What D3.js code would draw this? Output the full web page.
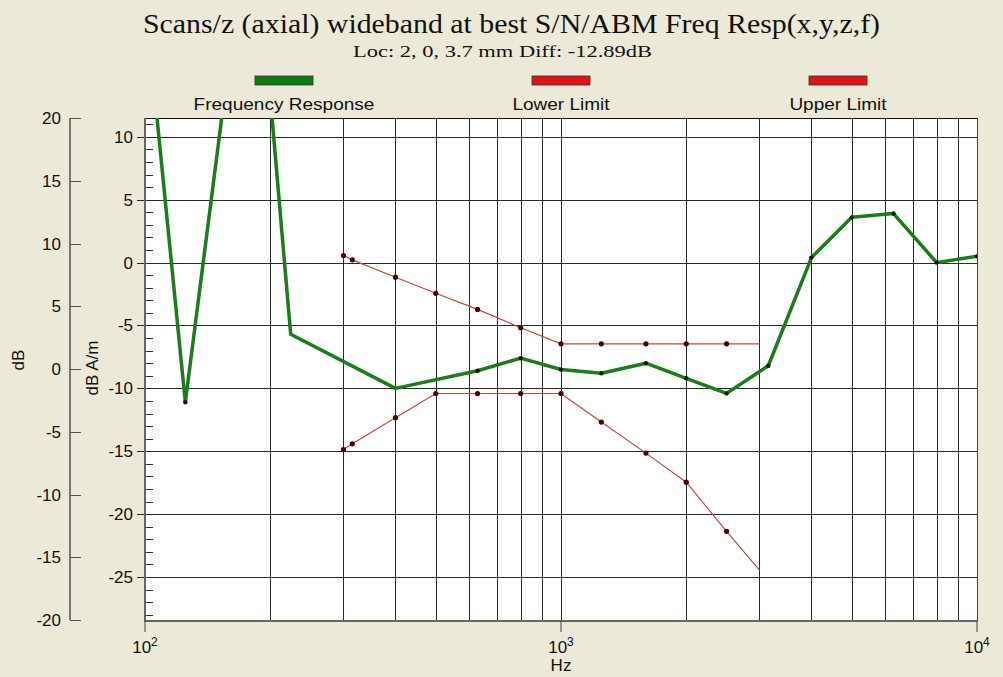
<!DOCTYPE html>
<meta charset="utf-8">
<style>
body { margin: 0; background: #ECE9D8; }
text { font-family: "Liberation Sans", Arial, sans-serif; fill: #111; }
.serif { font-family: "Liberation Serif", "Times New Roman", serif; }
</style>
<body>
<script src="https://d3js.org/d3.v7.min.js"></script>
<script>

// frequency response (Hz, dB A/m)
var respFreq = [100, 125, 160, 200, 224, 400, 630, 800, 1000, 1250, 1600, 2000, 2500, 3150, 4000, 5000, 6300, 8000, 10000];
var respVal  = [21.1, -11.1, 16.6, 13.2, -5.7, -10.0, -8.6, -7.6, -8.5, -8.8, -8.0, -9.2, -10.4, -8.2, 0.4, 3.6, 3.9, 0.0, 0.5];
// which response points carry a marker dot
var respDot  = [0, 1, 0, 0, 0, 0, 1, 1, 1, 1, 1, 1, 1, 1, 1, 1, 1, 1, 1];

// limit lines
var limitFreq = [300, 315, 400, 500, 630, 800, 1000, 1250, 1600, 2000, 2500, 3000];
var upperVal  = [0.56, 0.22, -1.16, -2.44, -3.72, -5.18, -6.46, -6.46, -6.46, -6.46, -6.46, -6.46];
var lowerVal  = [-14.86, -14.41, -12.33, -10.41, -10.41, -10.41, -10.41, -12.68, -15.15, -17.46, -21.37, -24.45];

// tick labels
var leftTicks  = [20, 15, 10, 5, 0, -5, -10, -15, -20];
var rightTicks = [10, 5, 0, -5, -10, -15, -20, -25];
var decades = [100, 1000, 10000];
var decadeExp = ["2", "3", "4"];

var legendNames = ["Frequency Response", "Lower Limit", "Upper Limit"];

var width = 1003, height = 677;
var plot = {left: 145, right: 977, top: 118, bottom: 621};

var svg = d3.select("body").append("svg")
    .attr("width", width)
    .attr("height", height);

svg.append("rect").attr("width", width).attr("height", height).attr("fill", "#ECE9D8");

// scales
var x = d3.scaleLog().domain([100, 10000]).range([plot.left, plot.right]);
var y = d3.scaleLinear().domain([-28.5, 11.5]).range([plot.bottom, plot.top]);
var yL = d3.scaleLinear().domain([-20, 20]).range([620, 118]);

svg.append("defs").append("clipPath").attr("id", "clip")
  .append("rect")
    .attr("x", plot.left).attr("y", plot.top)
    .attr("width", plot.right - plot.left).attr("height", plot.bottom - plot.top);

// plot background
svg.append("rect")
    .attr("x", plot.left).attr("y", plot.top)
    .attr("width", plot.right - plot.left).attr("height", plot.bottom - plot.top)
    .attr("fill", "#fff");

// vertical grid (all log ticks 200..9000)
var gridF = x.ticks().filter(function(f) { return f > 100 && f < 10000; });
svg.append("g").selectAll("line")
    .data(gridF)
  .enter().append("line")
    .attr("x1", function(d) { return Math.round(x(d)) + 0.5; })
    .attr("x2", function(d) { return Math.round(x(d)) + 0.5; })
    .attr("y1", plot.top).attr("y2", plot.bottom)
    .attr("stroke", "#2a2a2a").attr("stroke-width", 1);

// horizontal grid + major ticks
svg.append("g").selectAll("line")
    .data(rightTicks)
  .enter().append("line")
    .attr("x1", plot.left - 8).attr("x2", plot.right)
    .attr("y1", function(d) { return Math.round(y(d)) + 0.5; })
    .attr("y2", function(d) { return Math.round(y(d)) + 0.5; })
    .attr("stroke", "#2a2a2a").attr("stroke-width", 1);

// minor ticks every dB on the inside of the left edge
var minor = d3.range(-28, 12).filter(function(v) { return v % 5 != 0; });
svg.append("g").selectAll("line")
    .data(minor)
  .enter().append("line")
    .attr("x1", plot.left).attr("x2", plot.left + 8)
    .attr("y1", function(d) { return Math.round(y(d)) + 0.5; })
    .attr("y2", function(d) { return Math.round(y(d)) + 0.5; })
    .attr("stroke", "#333").attr("stroke-width", 1);

// frame
svg.append("line").attr("x1", plot.left).attr("x2", plot.right + 1)
    .attr("y1", plot.top + 0.5).attr("y2", plot.top + 0.5).attr("stroke", "#111");
svg.append("line").attr("x1", plot.right + 0.5).attr("x2", plot.right + 0.5)
    .attr("y1", plot.top).attr("y2", plot.bottom).attr("stroke", "#444");
svg.append("line").attr("x1", plot.left).attr("x2", plot.left)
    .attr("y1", plot.top).attr("y2", plot.bottom + 1).attr("stroke", "#666").attr("stroke-width", 2);
svg.append("line").attr("x1", plot.left - 1).attr("x2", plot.right + 1)
    .attr("y1", plot.bottom).attr("y2", plot.bottom).attr("stroke", "#666").attr("stroke-width", 2);

// decade ticks below the axis
svg.append("g").selectAll("line")
    .data(decades)
  .enter().append("line")
    .attr("x1", function(d) { return x(d); }).attr("x2", function(d) { return x(d); })
    .attr("y1", plot.bottom).attr("y2", plot.bottom + 11)
    .attr("stroke", "#444");

// decade labels 10^n
var xl = svg.append("g").selectAll("text")
    .data(decades)
  .enter().append("text")
    .attr("x", function(d) { return x(d); })
    .attr("y", 653)
    .attr("text-anchor", "middle")
    .style("font-size", "17px");
xl.append("tspan").text("10");
xl.append("tspan")
    .attr("dy", -7).style("font-size", "12px")
    .text(function(d, i) { return decadeExp[i]; });

svg.append("text")
    .attr("x", x(1000)).attr("y", 671)
    .attr("text-anchor", "middle")
    .style("font-size", "17px")
    .text("Hz");

// right (dB A/m) labels
svg.append("g").selectAll("text")
    .data(rightTicks)
  .enter().append("text")
    .attr("x", 133)
    .attr("y", function(d) { return y(d) + 6; })
    .attr("text-anchor", "end")
    .style("font-size", "17px")
    .text(function(d) { return d; });

// left (dB) axis
svg.append("line").attr("x1", 70).attr("x2", 70)
    .attr("y1", yL(20)).attr("y2", yL(-20))
    .attr("stroke", "#777").attr("stroke-width", 2);
svg.append("g").selectAll("line")
    .data(leftTicks)
  .enter().append("line")
    .attr("x1", 70).attr("x2", 81)
    .attr("y1", function(d) { return Math.round(yL(d)) + 0.5; })
    .attr("y2", function(d) { return Math.round(yL(d)) + 0.5; })
    .attr("stroke", "#555");
svg.append("g").selectAll("text")
    .data(leftTicks)
  .enter().append("text")
    .attr("x", 61)
    .attr("y", function(d) { return yL(d) + 6; })
    .attr("text-anchor", "end")
    .style("font-size", "17px")
    .text(function(d) { return d; });

// axis titles
svg.append("text")
    .attr("transform", "translate(24,360) rotate(-90)")
    .attr("text-anchor", "middle")
    .style("font-size", "17px")
    .text("dB");
svg.append("text")
    .attr("transform", "translate(98,368) rotate(-90)")
    .attr("text-anchor", "middle")
    .style("font-size", "17px")
    .text("dB A/m");

// data lines
var line = d3.line()
    .x(function(d) { return x(d[0]); })
    .y(function(d) { return y(d[1]); });

var resp = d3.zip(respFreq, respVal);
var upper = d3.zip(limitFreq, upperVal);
var lower = d3.zip(limitFreq, lowerVal);

var g = svg.append("g").attr("clip-path", "url(#clip)");

[upper, lower].forEach(function(s) {
  g.append("path")
      .datum(s)
      .attr("d", line)
      .attr("fill", "none")
      .attr("stroke", "#b84a4a")
      .attr("stroke-width", 1.2);
  g.selectAll(null)
      .data(s.slice(0, -1))
    .enter().append("circle")
      .attr("cx", function(d) { return x(d[0]); })
      .attr("cy", function(d) { return y(d[1]); })
      .attr("r", 2.6)
      .attr("fill", "#4a0000");
});

g.append("path")
    .datum(resp)
    .attr("d", line)
    .attr("fill", "none")
    .attr("stroke", "#1a7c1a")
    .attr("stroke-width", 3.5)
    .attr("stroke-linejoin", "round");
g.selectAll(null)
    .data(resp.filter(function(d, i) { return respDot[i]; }))
  .enter().append("circle")
    .attr("cx", function(d) { return x(d[0]); })
    .attr("cy", function(d) { return y(d[1]); })
    .attr("r", 2.2)
    .attr("fill", "#0a1a0a");

// title
svg.append("text")
    .attr("class", "serif")
    .attr("x", 143).attr("y", 33)
    .attr("textLength", 737)
    .attr("lengthAdjust", "spacingAndGlyphs")
    .style("font-size", "27px")
    .text("Scans/z (axial) wideband at best S/N/ABM Freq Resp(x,y,z,f)");
svg.append("text")
    .attr("class", "serif")
    .attr("x", 353).attr("y", 57)
    .attr("textLength", 299)
    .attr("lengthAdjust", "spacingAndGlyphs")
    .style("font-size", "17px")
    .text("Loc: 2, 0, 3.7 mm Diff: -12.89dB");

// legend
var legendX = [284, 561, 838];
var legendCol = ["#0f7a0f", "#e01414", "#e01414"];
var lg = svg.append("g").selectAll("g")
    .data(legendNames)
  .enter().append("g")
    .attr("transform", function(d, i) { return "translate(" + legendX[i] + ",0)"; });
lg.append("rect")
    .attr("x", -29).attr("y", 76)
    .attr("width", 58).attr("height", 9)
    .attr("fill", function(d, i) { return legendCol[i]; })
    .attr("stroke", "#333").attr("stroke-width", 0.8);
lg.append("text")
    .attr("y", 110)
    .attr("text-anchor", "middle")
    .attr("transform", "scale(1.12,1)")
    .style("font-size", "17px")
    .text(function(d) { return d; });

</script>
</body>
